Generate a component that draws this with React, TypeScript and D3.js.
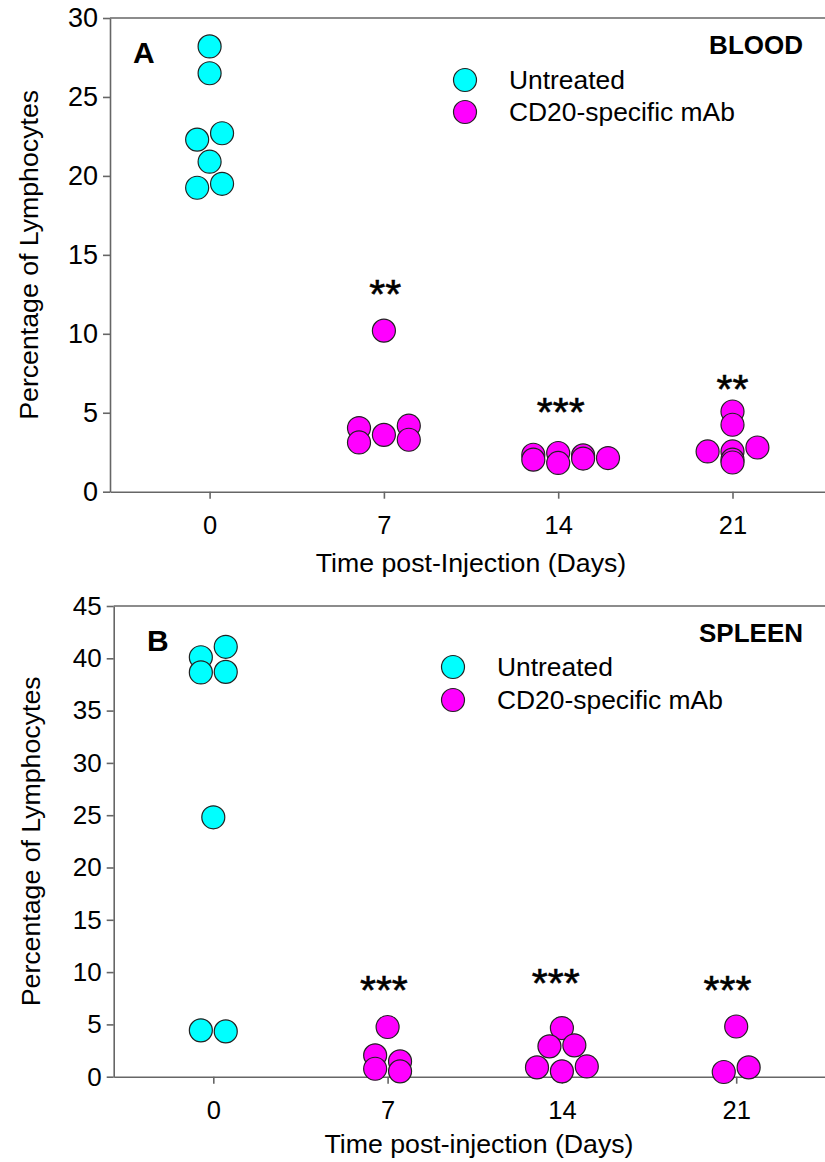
import React, { useEffect, useRef } from "react";
import * as d3 from "d3";

// x ticks (days post injection)
const dayTicks = [0, 7, 14, 21];

// Panel A - BLOOD (x = day position incl. dot-plot spread, y = % lymphocytes)
const bloodUntreatedX = [0, 0, -0.5, 0.5, 0, -0.5, 0.5];
const bloodUntreatedY = [28.2, 26.5, 22.3, 22.7, 20.9, 19.25, 19.5];
const bloodMabX = [7, 6, 6, 7, 8, 8, 13, 13, 14, 14, 15, 15, 16, 21, 21, 20, 21, 21, 21, 22];
const bloodMabY = [10.2, 4.03, 3.12, 3.6, 4.18, 3.29, 2.34, 2.03, 2.45, 1.82, 2.3, 2.1, 2.13, 5.08, 4.24, 2.55, 2.55, 2.03, 1.85, 2.8];
const bloodStars = ["**", "***", "**"];
const bloodStarX = [7.05, 14.1, 21];
const bloodStarY = [12.9, 5.4, 6.9];
const bloodYTicks = [0, 5, 10, 15, 20, 25, 30];

// Panel B - SPLEEN
const spleenUntreatedX = [-0.5, 0.5, -0.5, 0.5, 0, -0.5, 0.5];
const spleenUntreatedY = [40.1, 41.1, 38.65, 38.7, 24.8, 4.43, 4.33];
const spleenMabX = [7, 6.5, 6.5, 7.5, 7.5, 14, 13.5, 14.5, 13, 14, 15, 21, 20.5, 21.5];
const spleenMabY = [4.75, 2.04, 0.76, 1.46, 0.51, 4.65, 2.9, 3.0, 0.89, 0.51, 0.98, 4.8, 0.45, 0.89];
const spleenStars = ["***", "***", "***"];
const spleenStarX = [6.85, 13.75, 20.65];
const spleenStarY = [8.9, 9.56, 8.9];
const spleenYTicks = [0, 5, 10, 15, 20, 25, 30, 35, 40, 45];

const seriesNames = ["Untreated", "CD20-specific mAb"];
const seriesColors = ["#00ffff", "#ff00ff"];

const FONT = "'Liberation Sans', Arial, Helvetica, sans-serif";
const AXIS = "#666";
const R = 11.5;

const drawPanel = (svg, p) => {
  const x = d3.scaleLinear().domain([-4, 25]).range([p.left, p.left + 29 * 24.9]);
  const y = d3.scaleLinear().domain([0, p.yMax]).range([p.bottom, p.top]);
  const g = svg.append("g");

  // top frame line
  g.append("line")
    .attr("x1", p.left)
    .attr("x2", x(25))
    .attr("y1", p.top)
    .attr("y2", p.top)
    .attr("stroke", AXIS)
    .attr("stroke-width", 1.6);

  const yAxis = g
    .append("g")
    .attr("transform", `translate(${p.left},0)`)
    .call(d3.axisLeft(y).tickValues(p.yTicks).tickSize(7).tickSizeOuter(0).tickPadding(5));
  const xAxis = g
    .append("g")
    .attr("transform", `translate(0,${p.bottom})`)
    .call(d3.axisBottom(x).tickValues(dayTicks).tickSize(7).tickSizeOuter(0).tickPadding(17));

  yAxis.attr("font-size", p.yTickFont);
  xAxis.attr("font-size", 25.5);
  [yAxis, xAxis].forEach(a => {
    a.attr("font-family", FONT);
    a.selectAll("path, line").attr("stroke", AXIS).attr("stroke-width", 1.6);
    a.selectAll("text").attr("fill", "#000");
  });

  // axis titles
  g.append("text")
    .attr("transform", `translate(${p.yTitleX},${(p.top + p.bottom) / 2}) rotate(-90)`)
    .attr("text-anchor", "middle")
    .attr("font-family", FONT)
    .attr("font-size", 26.7)
    .text("Percentage of Lymphocytes");
  g.append("text")
    .attr("x", p.xTitleX)
    .attr("y", p.bottom + p.xTitleOffset)
    .attr("text-anchor", "middle")
    .attr("font-family", FONT)
    .attr("font-size", 26.7)
    .text(p.xTitle);

  // panel letter + tissue
  g.append("text")
    .attr("x", p.letterX)
    .attr("y", p.top + 45)
    .attr("font-family", FONT)
    .attr("font-weight", "bold")
    .attr("font-size", 30)
    .text(p.letter);
  g.append("text")
    .attr("x", 803)
    .attr("y", p.top + 36)
    .attr("text-anchor", "end")
    .attr("font-family", FONT)
    .attr("font-weight", "bold")
    .attr("font-size", 26)
    .text(p.tissue);

  // legend
  seriesNames.forEach((name, i) => {
    const ly = p.legendY + i * p.legendGap;
    g.append("circle")
      .attr("cx", p.legendX)
      .attr("cy", ly)
      .attr("r", R)
      .attr("fill", seriesColors[i])
      .attr("stroke", "#222")
      .attr("stroke-width", 1.2);
    g.append("text")
      .attr("x", p.legendX + 44)
      .attr("y", ly)
      .attr("dy", "0.35em")
      .attr("font-family", FONT)
      .attr("font-size", 26.4)
      .text(name);
  });

  // points
  const series = [
    { xs: p.untreatedX, ys: p.untreatedY, color: seriesColors[0] },
    { xs: p.mabX, ys: p.mabY, color: seriesColors[1] }
  ];
  series.forEach(s => {
    g.append("g")
      .selectAll("circle")
      .data(d3.range(s.xs.length))
      .enter()
      .append("circle")
      .attr("cx", i => x(s.xs[i]))
      .attr("cy", i => y(s.ys[i]))
      .attr("r", R)
      .attr("fill", s.color)
      .attr("stroke", "#222")
      .attr("stroke-width", 1.2);
  });

  // significance stars
  g.append("g")
    .selectAll("text")
    .data(p.stars)
    .enter()
    .append("text")
    .attr("x", (d, i) => x(p.starX[i]))
    .attr("y", (d, i) => y(p.starY[i]) + 20)
    .attr("text-anchor", "middle")
    .attr("font-family", FONT)
    .attr("font-size", 41)
    .attr("stroke", "#000")
    .attr("stroke-width", 0.6)
    .text(d => d);
};

function App() {
  const ref = useRef(null);

  useEffect(() => {
    const svg = d3.select(ref.current);
    svg.selectAll("*").remove();

    drawPanel(svg, {
      left: 110,
      top: 18,
      bottom: 491.7,
      yMax: 30,
      yTicks: bloodYTicks,
      yTickFont: 27,
      untreatedX: bloodUntreatedX,
      untreatedY: bloodUntreatedY,
      mabX: bloodMabX,
      mabY: bloodMabY,
      stars: bloodStars,
      starX: bloodStarX,
      starY: bloodStarY,
      letter: "A",
      letterX: 133,
      tissue: "BLOOD",
      legendX: 465,
      legendY: 80,
      legendGap: 32,
      yTitleX: 38,
      xTitleX: 471,
      xTitleOffset: 80,
      xTitle: "Time post-Injection (Days)"
    });

    drawPanel(svg, {
      left: 113.7,
      top: 606,
      bottom: 1076.7,
      yMax: 45,
      yTicks: spleenYTicks,
      yTickFont: 26,
      untreatedX: spleenUntreatedX,
      untreatedY: spleenUntreatedY,
      mabX: spleenMabX,
      mabY: spleenMabY,
      stars: spleenStars,
      starX: spleenStarX,
      starY: spleenStarY,
      letter: "B",
      letterX: 147,
      tissue: "SPLEEN",
      legendX: 453,
      legendY: 667,
      legendGap: 33,
      yTitleX: 40,
      xTitleX: 479,
      xTitleOffset: 76.5,
      xTitle: "Time post-injection (Days)"
    });
  }, []);

  return (
    <svg
      ref={ref}
      width={825}
      height={1162}
      style={{ position: "absolute", left: 0, top: 0, background: "#fff" }}
    />
  );
}

export default App;
